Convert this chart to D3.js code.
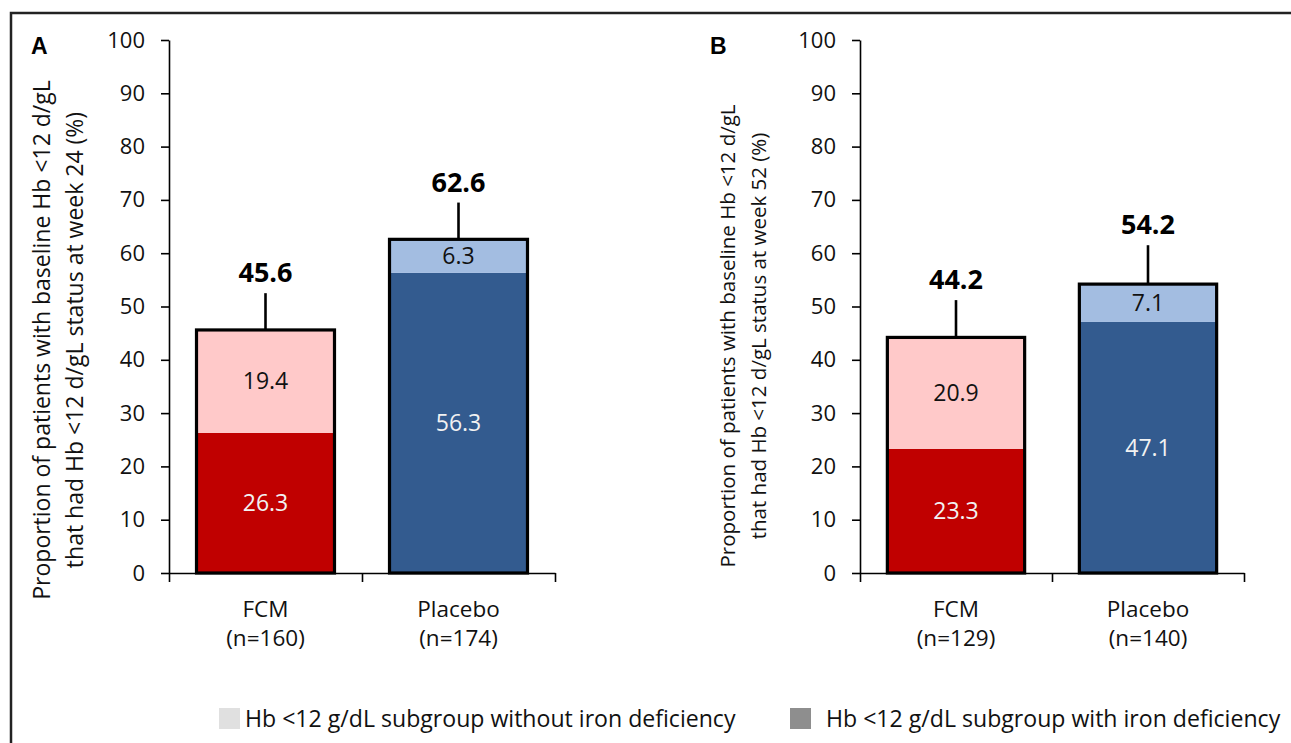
<!DOCTYPE html>
<html>
<head>
<meta charset="utf-8">
<script src="https://cdn.jsdelivr.net/npm/d3@7"></script>
<style>
  body { margin: 0; background: #fff; }
  svg { display: block; font-family: "Open Sans", sans-serif; }
</style>
</head>
<body>
<div id="figure"></div>
<script>
'use strict';

const categories = ['FCM', 'Placebo'];
const yTicks = [0, 10, 20, 30, 40, 50, 60, 70, 80, 90, 100];

// panel A (week 24)
const nLabelsA = ['(n=160)', '(n=174)'];
const withIronDefA = [26.3, 56.3];
const withoutIronDefA = [19.4, 6.3];
const totalsA = [45.6, 62.6];
const errorUpperA = [52.5, 69.5];
const yTitleA = ['Proportion of patients with baseline Hb <12 d/gL',
  'that had Hb <12 d/gL status at week 24 (%)'];

// panel B (week 52)
const nLabelsB = ['(n=129)', '(n=140)'];
const withIronDefB = [23.3, 47.1];
const withoutIronDefB = [20.9, 7.1];
const totalsB = [44.2, 54.2];
const errorUpperB = [51.2, 61.5];
const yTitleB = ['Proportion of patients with baseline Hb <12 d/gL',
  'that had Hb <12 d/gL status at week 52 (%)'];

const legendLabels = ['Hb <12 g/dL subgroup without iron deficiency',
  'Hb <12 g/dL subgroup with iron deficiency'];

const darkColors = ['#C00000', '#335B8F'];
const lightColors = ['#FFC9C9', '#A3BDE1'];
const legendColors = ['#E0E0E0', '#8E8E8E'];

const width = 1291;
const height = 743;

const svg = d3.select('div#figure')
  .append('svg')
  .attr('width', width)
  .attr('height', height)
  .attr('viewBox', [0, 0, width, height]);

// outer frame (runs off the right and bottom edges)
svg.append('rect')
  .attr('x', 11)
  .attr('y', 13)
  .attr('width', width + 20)
  .attr('height', height + 20)
  .attr('fill', 'none')
  .attr('stroke', '#222')
  .attr('stroke-width', 2.5);

const y = d3.scaleLinear()
  .domain([0, 100])
  .range([573, 40]);

function drawPanel(p) {
  const data = categories.map((c, i) => ({
    cat: c,
    n: p.nLabels[i],
    dark: p.withIronDef[i],
    light: p.withoutIronDef[i],
    total: p.totals[i],
    err: p.errorUpper[i],
    i: i,
  }));

  const x = d3.scaleBand()
    .domain(categories)
    .range(p.xRange)
    .paddingInner(0.285)
    .paddingOuter(0.1425);

  const g = svg.append('g');

  // y axis
  const yAxis = g.append('g')
    .attr('transform', `translate(${p.xRange[0]},0)`)
    .call(d3.axisLeft(y).tickValues(yTicks).tickSize(8).tickSizeOuter(0).tickPadding(16));
  yAxis.select('.domain').attr('stroke', '#000').attr('stroke-width', 1.6);
  yAxis.selectAll('.tick line').attr('stroke', '#000').attr('stroke-width', 1.6);
  yAxis.selectAll('.tick text')
    .attr('font-family', '"Open Sans", sans-serif')
    .attr('font-size', 22)
    .attr('fill', '#111');

  // x axis: line with ticks at category boundaries
  const xEdges = d3.scaleLinear().domain([0, categories.length]).range(p.xRange);
  const xAxis = g.append('g')
    .attr('transform', `translate(0,${y(0)})`)
    .call(d3.axisBottom(xEdges).tickValues(d3.range(categories.length + 1)).tickSize(9).tickSizeOuter(0).tickFormat(''));
  xAxis.select('.domain').attr('stroke', '#000').attr('stroke-width', 1.6);
  xAxis.selectAll('.tick line').attr('stroke', '#000').attr('stroke-width', 1.6);

  // category labels
  const cat = g.append('g')
    .selectAll('text')
    .data(data)
    .join('text')
    .attr('x', d => x(d.cat) + x.bandwidth() / 2)
    .attr('y', 617)
    .attr('text-anchor', 'middle')
    .attr('font-size', 22.5)
    .attr('fill', '#111');
  cat.append('tspan').text(d => d.cat);
  cat.append('tspan')
    .attr('x', d => x(d.cat) + x.bandwidth() / 2)
    .attr('dy', 29)
    .text(d => d.n);

  // error bars
  g.append('g')
    .selectAll('line')
    .data(data)
    .join('line')
    .attr('x1', d => x(d.cat) + x.bandwidth() / 2)
    .attr('x2', d => x(d.cat) + x.bandwidth() / 2)
    .attr('y1', d => y(d.total))
    .attr('y2', d => y(d.err))
    .attr('stroke', '#000')
    .attr('stroke-width', 2.6);

  // stacked segments
  g.append('g')
    .selectAll('rect')
    .data(data)
    .join('rect')
    .attr('x', d => x(d.cat))
    .attr('width', x.bandwidth())
    .attr('y', d => y(d.dark))
    .attr('height', d => y(0) - y(d.dark))
    .attr('fill', d => darkColors[d.i]);

  g.append('g')
    .selectAll('rect')
    .data(data)
    .join('rect')
    .attr('x', d => x(d.cat))
    .attr('width', x.bandwidth())
    .attr('y', d => y(d.total))
    .attr('height', d => y(d.dark) - y(d.total))
    .attr('fill', d => lightColors[d.i]);

  // outline around whole bar
  g.append('g')
    .selectAll('rect')
    .data(data)
    .join('rect')
    .attr('x', d => x(d.cat))
    .attr('width', x.bandwidth())
    .attr('y', d => y(d.total))
    .attr('height', d => y(0) - y(d.total))
    .attr('fill', 'none')
    .attr('stroke', '#000')
    .attr('stroke-width', 3.2);

  // segment value labels
  g.append('g')
    .selectAll('text')
    .data(data)
    .join('text')
    .attr('x', d => x(d.cat) + x.bandwidth() / 2)
    .attr('y', d => y(d.dark / 2))
    .attr('dy', '0.35em')
    .attr('text-anchor', 'middle')
    .attr('font-size', 23)
    .attr('fill', '#F2F2F2')
    .text(d => d.dark.toFixed(1));

  g.append('g')
    .selectAll('text')
    .data(data)
    .join('text')
    .attr('x', d => x(d.cat) + x.bandwidth() / 2)
    .attr('y', d => y((d.dark + d.total) / 2))
    .attr('dy', '0.35em')
    .attr('text-anchor', 'middle')
    .attr('font-size', 23)
    .attr('fill', '#111')
    .text(d => d.light.toFixed(1));

  // totals above error bars
  g.append('g')
    .selectAll('text')
    .data(data)
    .join('text')
    .attr('x', d => x(d.cat) + x.bandwidth() / 2)
    .attr('y', d => y(d.err) - 11)
    .attr('text-anchor', 'middle')
    .attr('font-size', 27)
    .attr('font-weight', 'bold')
    .attr('fill', '#000')
    .text(d => d.total.toFixed(1));

  // y title
  const t = g.append('text')
    .attr('transform', `translate(${p.titleX},${p.titleY}) rotate(-90)`)
    .attr('text-anchor', 'middle')
    .attr('font-size', p.titleSize)
    .attr('fill', '#111');
  p.yTitle.forEach((line, k) => {
    t.append('tspan')
      .attr('x', 0)
      .attr('dy', k === 0 ? 0 : p.titleGap)
      .text(line);
  });

  // panel letter
  g.append('text')
    .attr('x', p.letterX)
    .attr('y', 54)
    .attr('font-family', '"Liberation Sans", Arial, sans-serif')
    .attr('font-size', 23)
    .attr('font-weight', 'bold')
    .attr('fill', '#000')
    .text(p.letter);
}

drawPanel({
  letter: 'A', letterX: 31,
  xRange: [169, 555],
  nLabels: nLabelsA, withIronDef: withIronDefA, withoutIronDef: withoutIronDefA,
  totals: totalsA, errorUpper: errorUpperA, yTitle: yTitleA,
  titleX: 50, titleY: 340, titleSize: 23, titleGap: 33,
});

drawPanel({
  letter: 'B', letterX: 710,
  xRange: [860, 1244],
  nLabels: nLabelsB, withIronDef: withIronDefB, withoutIronDef: withoutIronDefB,
  totals: totalsB, errorUpper: errorUpperB, yTitle: yTitleB,
  titleX: 735, titleY: 336, titleSize: 20.5, titleGap: 31,
});

// legend
const legendX = [219, 790];
const legend = svg.append('g')
  .selectAll('g')
  .data(legendLabels)
  .join('g')
  .attr('transform', (d, i) => `translate(${legendX[i]},708)`);

legend.append('rect')
  .attr('width', 21)
  .attr('height', 21)
  .attr('fill', (d, i) => legendColors[i]);

legend.append('text')
  .attr('x', (d, i) => i === 0 ? 26 : 36)
  .attr('y', 19)
  .attr('font-size', 23.1)
  .attr('fill', '#111')
  .text(d => d);
</script>
</body>
</html>
